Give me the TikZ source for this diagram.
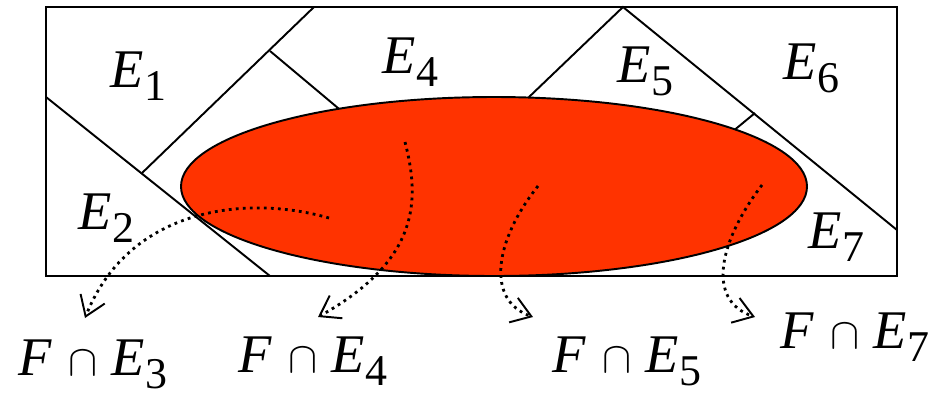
\documentclass[tikz,border=0pt]{standalone}
\usepackage{fontspec}
\setmainfont{Liberation Serif}
\usetikzlibrary{arrows.meta, positioning, calc}
\definecolor{setred}{RGB}{255,51,0}
\newcommand{\Eset}[1]{\textit{E}\kern0.02em\raisebox{-0.24em}{\fontsize{25}{25}\selectfont #1}}
\newcommand{\FE}[1]{\textit{F}\hspace{0.3em}$\cap$\hspace{0.25em}\Eset{#1}}

\begin{document}
\begin{tikzpicture}[x=0.02cm, y=-0.02cm, font=\fontsize{31}{36}\selectfont]
    \tikzstyle{part} = [line width=1.1pt, line join=miter]
    \tikzstyle{lbl} = [anchor=base west, inner sep=0pt]
    \tikzstyle{flow} = [line width=1.6pt, dash pattern=on 1.6pt off 2.4pt, -{Straight Barb[length=0.38cm, width=0.52cm, line width=1.1pt]}]

    \useasboundingbox (0,0) rectangle (930,397);

    % Partition of the sample space
    \draw [part] (46,7) rectangle (897,276);
    \draw [part] (46,97) -- (270,276);
    \draw [part] (314,7) -- (142,173);
    \draw [part] (270,51) -- (400,160);
    \draw [part] (529,97) -- (623,7) -- (897,230);
    \draw [part] (529,97) -- (480,143);
    \draw [part] (755,113) -- (715,146);

    % The event F
    \draw [part, fill=setred] (494,186.5) ellipse [x radius=313, y radius=89.5];

    % Labels of the parts
    \node (e1) [lbl] at (110,87) {\Eset{1}};
    \node (e2) [lbl] at (78,229) {\Eset{2}};
    \node (e4) [lbl] at (382,73) {\Eset{4}};
    \node (e5) [lbl] at (617,82) {\Eset{5}};
    \node (e6) [lbl] at (783,79) {\Eset{6}};
    \node (e7) [lbl] at (808,248) {\Eset{7}};

    % Intersections
    \node (fe3) [lbl] at (18,375) {\FE{3}};
    \node (fe4) [lbl] at (238,372) {\FE{4}};
    \node (fe5) [lbl] at (552,372) {\FE{5}};
    \node (fe7) [lbl] at (780,348) {\FE{7}};

    \coordinate (s3) at (329,218);
    \coordinate (t3) at (85,318);
    \coordinate (s4) at (405,142);
    \coordinate (t4) at (318,317);
    \coordinate (s5) at (538,186);
    \coordinate (t5) at (533,317);
    \coordinate (s7) at (762,185);
    \coordinate (t7) at (755,317);

    \draw [flow] (s3) .. controls (250,195) and (130,205) .. (t3);
    \draw [flow] (s4) .. controls (420,200) and (420,260) .. (t4);
    \draw [flow] (s5) .. controls (495,240) and (485,300) .. (t5);
    \draw [flow] (s7) .. controls (720,240) and (705,300) .. (t7);
\end{tikzpicture}
\end{document}
